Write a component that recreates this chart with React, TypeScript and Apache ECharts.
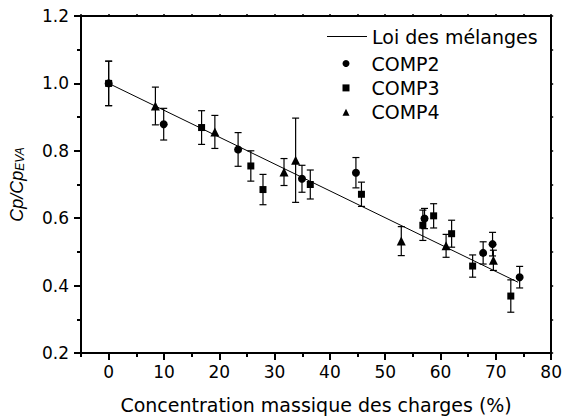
import React, { useEffect, useRef } from "react";
import * as echarts from "echarts";

// Tick labels / positions
const xTicks = [0, 10, 20, 30, 40, 50, 60, 70, 80];
const xMinorTicks = [-5, 5, 15, 25, 35, 45, 55, 65, 75];
const xAllTicks = [-5, 0, 5, 10, 15, 20, 25, 30, 35, 40, 45, 50, 55, 60, 65, 70, 75, 80];

// Law of mixtures line
const lawX = [0, 74];
const lawY = [1.0, 0.41];

// COMP2 (circles)
const comp2X = [0, 9.95, 23.4, 34.95, 44.7, 57.1, 67.7, 69.4, 74.3];
const comp2Y = [1.0, 0.879, 0.804, 0.717, 0.735, 0.599, 0.497, 0.523, 0.425];
const comp2Err = [0.066, 0.047, 0.05, 0.04, 0.045, 0.03, 0.033, 0.035, 0.032];

// COMP3 (squares)
const comp3X = [0, 16.8, 25.7, 27.9, 36.45, 45.7, 56.8, 58.75, 62.0, 65.8, 72.7];
const comp3Y = [1.0, 0.869, 0.755, 0.685, 0.7, 0.671, 0.579, 0.607, 0.554, 0.458, 0.369];
const comp3Err = [0.066, 0.05, 0.045, 0.045, 0.043, 0.036, 0.045, 0.036, 0.04, 0.033, 0.048];

// COMP4 (triangles)
const comp4X = [8.45, 19.2, 31.7, 33.8, 52.9, 61.0, 69.55];
const comp4Y = [0.933, 0.856, 0.737, 0.772, 0.532, 0.518, 0.475];
const comp4Err = [0.056, 0.049, 0.04, 0.125, 0.043, 0.034, 0.03];

const FONT = "'DejaVu Sans', 'Liberation Sans', Arial, sans-serif";
const FONT_IT = "'Liberation Sans', Arial, sans-serif";

function pts(xs: number[], ys: number[]) {
  return xs.map((x, i) => [x, ys[i]]);
}
function errPts(xs: number[], ys: number[], es: number[]) {
  return xs.map((x, i) => [x, ys[i], es[i]]);
}

function errSeries(data: number[][]) {
  return {
    type: "custom",
    xAxisIndex: 0,
    yAxisIndex: 0,
    data,
    z: 3,
    silent: true,
    renderItem: (params: any, api: any) => {
      const x = api.value(0);
      const y = api.value(1);
      const e = api.value(2);
      const top = api.coord([x, y + e]);
      const bot = api.coord([x, y - e]);
      const hw = 3.5;
      const style = { stroke: "#000", lineWidth: 1.2 };
      return {
        type: "group",
        children: [
          { type: "line", shape: { x1: top[0], y1: top[1], x2: bot[0], y2: bot[1] }, style },
          { type: "line", shape: { x1: top[0] - hw, y1: top[1], x2: top[0] + hw, y2: top[1] }, style },
          { type: "line", shape: { x1: bot[0] - hw, y1: bot[1], x2: bot[0] + hw, y2: bot[1] }, style },
        ],
      };
    },
  };
}

export default function App() {
  const ref = useRef<HTMLDivElement>(null);
  useEffect(() => {
    if (!ref.current) return;
    const chart = echarts.init(ref.current, null, { renderer: "svg" });
    const axisLine = { show: true, onZero: false, lineStyle: { color: "#000", width: 2 } };
    chart.setOption({
      animation: false,
      backgroundColor: "#fff",
      textStyle: { fontFamily: FONT, color: "#000" },
      grid: { left: 81, right: 11, top: 16, bottom: 66, containLabel: false },
      legend: [
        {
          data: [{ name: "Loi des mélanges", icon: "rect" }],
          left: 327,
          top: 27,
          itemWidth: 40,
          itemHeight: 1.2,
          padding: 0,
          textStyle: { fontFamily: FONT, fontSize: 19, color: "#000" },
          selectedMode: false,
        },
        {
          data: ["COMP2", "COMP3", "COMP4"],
          orient: "vertical",
          left: 342.5,
          top: 54,
          itemWidth: 7,
          itemHeight: 7,
          itemGap: 5.4,
          padding: 0,
          textStyle: { fontFamily: FONT, fontSize: 19, color: "#000", padding: [0, 0, 0, 17] },
          selectedMode: false,
        },
      ],
      xAxis: [
        {
          type: "value",
          min: -5,
          max: 80,
          position: "bottom",
          name: "Concentration massique des charges (%)",
          nameLocation: "middle",
          nameGap: 42,
          nameTextStyle: { fontFamily: FONT, fontSize: 19, color: "#000" },
          axisLine,
          splitLine: { show: false },
          axisTick: { show: true, customValues: xTicks, length: 7, lineStyle: { color: "#000", width: 2 } },
          axisLabel: { show: true, customValues: xTicks, margin: 10, fontSize: 17, color: "#000", fontFamily: FONT },
        },
        {
          type: "value",
          min: -5,
          max: 80,
          position: "bottom",
          axisLine: { show: false, onZero: false },
          splitLine: { show: false },
          axisTick: { show: true, customValues: xMinorTicks, length: 4, lineStyle: { color: "#000", width: 2 } },
          axisLabel: { show: false },
        },
        {
          type: "value",
          min: -5,
          max: 80,
          position: "top",
          axisLine,
          splitLine: { show: false },
          axisTick: { show: true, customValues: xAllTicks, length: 2, lineStyle: { color: "#000", width: 1.5 } },
          axisLabel: { show: false },
        },
      ],
      yAxis: [
        {
          type: "value",
          min: 0.2,
          max: 1.2,
          interval: 0.2,
          position: "left",
          name: "{a|Cp/Cp}{s|EVA}",
          nameLocation: "middle",
          nameGap: 55,
          nameRotate: 90,
          nameTextStyle: {
            fontFamily: FONT_IT,
            rich: {
              a: { fontStyle: "italic", fontSize: 18, fontFamily: FONT_IT, color: "#000", verticalAlign: "bottom", lineHeight: 22 },
              s: { fontStyle: "italic", fontSize: 12, fontFamily: FONT_IT, color: "#000", verticalAlign: "bottom", lineHeight: 16 },
            },
          },
          axisLine,
          splitLine: { show: false },
          axisTick: { show: true, length: 7, lineStyle: { color: "#000", width: 2 } },
          minorTick: { show: true, splitNumber: 2, length: 4, lineStyle: { color: "#000", width: 2 } },
          axisLabel: {
            margin: 12,
            fontSize: 17,
            color: "#000",
            fontFamily: FONT,
            formatter: (v: number) => v.toFixed(1),
          },
        },
        {
          type: "value",
          min: 0.2,
          max: 1.2,
          interval: 0.1,
          position: "right",
          axisLine,
          splitLine: { show: false },
          axisTick: { show: true, length: 2, lineStyle: { color: "#000", width: 1.5 } },
          axisLabel: { show: false },
        },
      ],
      series: [
        {
          name: "Loi des mélanges",
          type: "line",
          data: pts(lawX, lawY),
          symbol: "none",
          lineStyle: { color: "#000", width: 1 },
          itemStyle: { color: "#000" },
          z: 2,
        },
        errSeries(errPts(comp2X, comp2Y, comp2Err)),
        errSeries(errPts(comp3X, comp3Y, comp3Err)),
        errSeries(errPts(comp4X, comp4Y, comp4Err)),
        {
          name: "COMP3",
          type: "scatter",
          data: pts(comp3X, comp3Y),
          symbol: "rect",
          symbolSize: 7,
          itemStyle: { color: "#000", opacity: 1 },
          z: 4,
        },
        {
          name: "COMP2",
          type: "scatter",
          data: pts(comp2X, comp2Y),
          symbol: "circle",
          symbolSize: 8,
          itemStyle: { color: "#000", opacity: 1 },
          z: 5,
        },
        {
          name: "COMP4",
          type: "scatter",
          data: pts(comp4X, comp4Y),
          symbol: "triangle",
          symbolSize: 9,
          itemStyle: { color: "#000", opacity: 1 },
          z: 4,
        },
      ],
    });
    return () => chart.dispose();
  }, []);
  return (
    <div
      ref={ref}
      style={{ position: "fixed", left: 0, top: 0, width: 565, height: 419, background: "#fff" }}
    />
  );
}
